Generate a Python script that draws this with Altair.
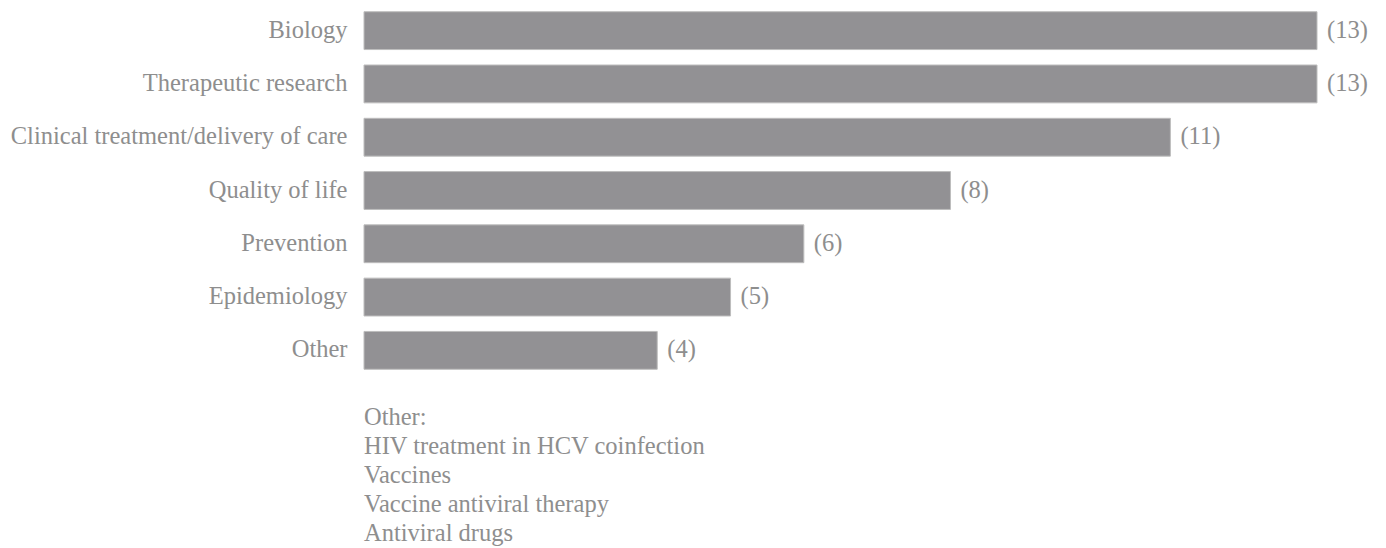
import altair as alt
import pandas as pd

categories = [
    "Biology",
    "Therapeutic research",
    "Clinical treatment/delivery of care",
    "Quality of life",
    "Prevention",
    "Epidemiology",
    "Other",
]
counts = [13, 13, 11, 8, 6, 5, 4]
other_lines = [
    "Other:",
    "HIV treatment in HCV coinfection",
    "Vaccines",
    "Vaccine antiviral therapy",
    "Antiviral drugs",
]

df = pd.DataFrame({"category": categories, "count": counts})
df["label"] = ["(" + str(c) + ")" for c in counts]

FONT = "Liberation Serif"
TEXT = "#8e8e8e"
SIZE = 24.5

y_enc = alt.Y(
    "category:N",
    sort=categories,
    scale=alt.Scale(paddingInner=0.29, paddingOuter=0.145),
    axis=alt.Axis(
        title=None, ticks=False, domain=False, labelPadding=17,
        labelFont=FONT, labelFontSize=SIZE, labelColor=TEXT, labelLimit=400,
    ),
)
x_enc = alt.X(
    "count:Q",
    scale=alt.Scale(domain=[0, 13], nice=False),
    axis=None,
)

bars = alt.Chart(df).mark_bar(
    color="#929194", stroke="#bdbdbd", strokeWidth=1
).encode(x=x_enc, y=y_enc)

values = alt.Chart(df).mark_text(
    align="left", dx=10, font=FONT, fontSize=SIZE, color=TEXT
).encode(x=x_enc, y=y_enc, text="label:N")

note = alt.Chart(pd.DataFrame({"t": ["\n".join(other_lines)]})).mark_text(
    align="left", baseline="alphabetic", font=FONT, fontSize=SIZE, color=TEXT,
    lineBreak="\n", lineHeight=29,
).encode(x=alt.value(0), y=alt.value(421), text="t:N")

chart = alt.layer(bars, values, note).properties(
    width=953,
    height=373,
    autosize=alt.AutoSizeParams(type="none"),
    padding={"left": 364, "top": 4, "right": 69, "bottom": 171},
    background="white",
).configure_view(stroke=None)

chart.save("out.html", embed_options={"renderer": "svg", "actions": False})
